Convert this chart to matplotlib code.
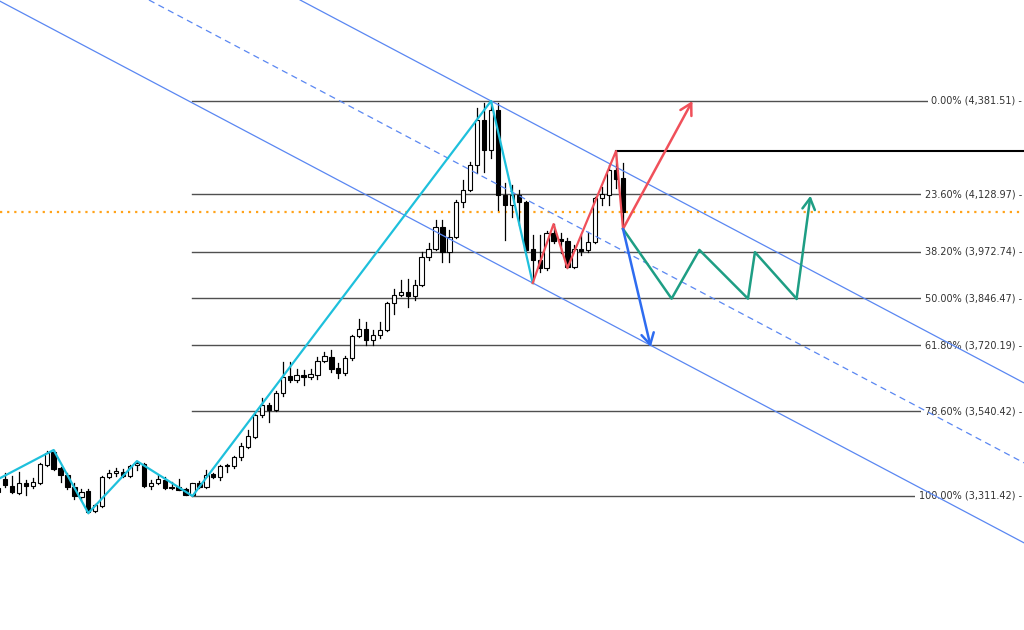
import matplotlib
matplotlib.use("Agg")
import matplotlib.pyplot as plt
import numpy as np

# ---- candle data (index -1 .. 89) ----
idx = list(range(-1, 90))
opens = [3333, 3358, 3339, 3320, 3347, 3339, 3347, 3395, 3431, 3387,
         3368, 3336, 3309, 3325, 3271, 3284, 3363, 3374, 3377, 3366,
         3395, 3398, 3339, 3347, 3355, 3336, 3336, 3330, 3314, 3347,
         3336, 3371, 3363, 3395, 3393, 3417, 3444, 3471, 3531, 3558,
         3544, 3591, 3637, 3626, 3639, 3634, 3639, 3677, 3688, 3658,
         3645, 3685, 3745, 3764, 3734, 3748, 3761, 3834, 3856, 3864,
         3853, 3883, 3959, 3981, 4040, 3972, 4013, 4108, 4140, 4208,
         4330, 4249, 4357, 4127, 4100, 4127, 4108, 3981, 3951, 3929,
         4024, 4008, 4002, 3932, 3981, 3978, 4000, 4119, 4127, 4195,
         4173]
highs = [3341, 3374, 3366, 3377, 3355, 3360, 3401, 3433, 3436, 3390,
         3374, 3347, 3330, 3330, 3290, 3366, 3382, 3387, 3385, 3395,
         3406, 3401, 3355, 3368, 3363, 3349, 3358, 3333, 3347, 3352,
         3382, 3374, 3395, 3398, 3420, 3455, 3490, 3539, 3577, 3563,
         3596, 3674, 3674, 3656, 3653, 3656, 3688, 3702, 3707, 3672,
         3691, 3748, 3791, 3783, 3761, 3783, 3837, 3872, 3897, 3899,
         3897, 3972, 3997, 4059, 4059, 4032, 4113, 4168, 4216, 4362,
         4376, 4381.51, 4376, 4159, 4154, 4140, 4111, 4019, 4019, 4029,
         4048, 4024, 4010, 3991, 4019, 4027, 4121, 4149, 4208, 4246,
         4214]
lows = [3317, 3336, 3320, 3317, 3314, 3333, 3344, 3393, 3382, 3349,
        3330, 3303, 3301, 3265, 3268, 3282, 3360, 3366, 3363, 3363,
        3382, 3336, 3330, 3344, 3330, 3330, 3328, 3313, 3311.42, 3333,
        3333, 3360, 3355, 3377, 3387, 3409, 3442, 3469, 3525, 3512,
        3542, 3582, 3620, 3620, 3612, 3628, 3628, 3674, 3647, 3631,
        3639, 3680, 3742, 3721, 3721, 3740, 3758, 3805, 3853, 3823,
        3842, 3880, 3951, 3978, 3945, 3945, 4010, 4094, 4138, 4186,
        4189, 4227, 4086, 4005, 4067, 4046, 3972, 3888.5, 3918, 3924,
        3997, 3970, 3929, 3929, 3964, 3972, 3997, 4100, 4100, 4146,
        4035]
closes = [3322, 3341, 3322, 3347, 3339, 3349, 3398, 3428, 3385, 3368,
          3336, 3311, 3322, 3268, 3287, 3363, 3374, 3379, 3366, 3393,
          3401, 3339, 3347, 3358, 3333, 3333, 3328, 3314, 3347, 3336,
          3368, 3363, 3393, 3393, 3417, 3447, 3474, 3531, 3558, 3544,
          3591, 3634, 3626, 3639, 3634, 3642, 3677, 3691, 3656, 3645,
          3685, 3745, 3764, 3734, 3748, 3761, 3834, 3856, 3864, 3853,
          3883, 3959, 3981, 4040, 3972, 4013, 4108, 4140, 4208, 4330,
          4249, 4357, 4127, 4100, 4127, 4108, 3978, 3951, 3929, 4024,
          4002, 4002, 3932, 3981, 3975, 4000, 4119, 4130, 4195, 4170,
          4081]

# ---- Fibonacci levels ----
fib_pcts = ["0.00%", "23.60%", "38.20%", "50.00%", "61.80%", "78.60%", "100.00%"]
fib_vals = [4381.51, 4128.97, 3972.74, 3846.47, 3720.19, 3540.42, 3311.42]
fib_start = 27

# ---- zigzags / projections ----
cyan_x = [-1, 7, 12, 19, 27, 70, 76]
cyan_y = [3357, 3436, 3265, 3406, 3311.42, 4381.51, 3888.5]
red_x = [76, 79, 81, 88, 89]
red_y = [3888.5, 4048, 3929, 4246, 4035]
red_arrow = [(89, 4035), (99, 4381.51)]
blue_arrow = [(89, 4035), (93, 3715)]
green_x = [89, 96, 100, 107, 108, 114]
green_y = [4035, 3846, 3978, 3846, 3972, 3846]
green_arrow = [(114, 3846), (116, 4125)]

high_line = 4246   # black horizontal from idx 88
channel_slope = -9.95
channel_upper = (70, 4381.51)
channel_lower = (76, 3888.5)

fig = plt.figure(figsize=(10.24, 6.30), dpi=100)
ax = fig.add_axes([0, 0, 1, 1])
ax.set_xlim(-0.72, 146.75)
ax.set_ylim(2948.4, 4655.1)
ax.axis("off")

# fib lines and labels
xr = 146.75
for p, v in zip(fib_pcts, fib_vals):
    ax.plot([fib_start, xr], [v, v], color="#505050", lw=1.0, zorder=1)
    ax.text(146.45, v, f"{p} ({v:,.2f}) -", ha="right", va="center",
            fontsize=7, color="#333333", zorder=2,
            bbox=dict(boxstyle="square,pad=0.35", fc="white", ec="none"))

# orange current price line
ax.axhline(closes[-1], color="#ffa31a", lw=1.6, ls=(0, (1, 2.2)), zorder=1.5)

# black horizontal line from recent high
ax.plot([88, xr], [high_line, high_line], color="black", lw=1.5, zorder=1.5)

# candles
w = 0.62
for i, o, h, l, c in zip(idx, opens, highs, lows, closes):
    ax.plot([i, i], [l, h], color="black", lw=0.9, zorder=3)
    up = c >= o
    bot = min(o, c)
    ht = max(abs(c - o), 1.5)
    ax.add_patch(plt.Rectangle((i - w / 2, bot), w, ht,
                               facecolor="white" if up else "black",
                               edgecolor="black", lw=0.8, zorder=3.5))

# channel
ch_col = "#5a87f2"
ax.axline(channel_upper, slope=channel_slope, color=ch_col, lw=0.9, zorder=4)
ax.axline(channel_lower, slope=channel_slope, color=ch_col, lw=0.9, zorder=4)
mid = ((channel_upper[0] + channel_lower[0]) / 2,
       (channel_upper[1] + channel_lower[1]) / 2)
ax.axline(mid, slope=channel_slope, color=ch_col, lw=0.9, ls=(0, (5, 3.6)), zorder=4)

# zigzags
ax.plot(cyan_x, cyan_y, color="#1ec0dc", lw=1.6, zorder=5)
ax.plot(red_x, red_y, color="#f0505a", lw=1.6, zorder=5)
ax.plot(green_x, green_y, color="#1e9e84", lw=1.8, zorder=5)

arrow_style = "->,head_length=0.8,head_width=0.45"
for (s, e), col in [(red_arrow, "#f0505a"), (blue_arrow, "#2e6cf0"),
                    (green_arrow, "#1e9e84")]:
    ax.annotate("", xy=e, xytext=s,
                arrowprops=dict(arrowstyle=arrow_style, color=col, lw=1.8,
                                shrinkA=0, shrinkB=0), zorder=5)

fig.savefig("out.png", dpi=100, facecolor="white")
